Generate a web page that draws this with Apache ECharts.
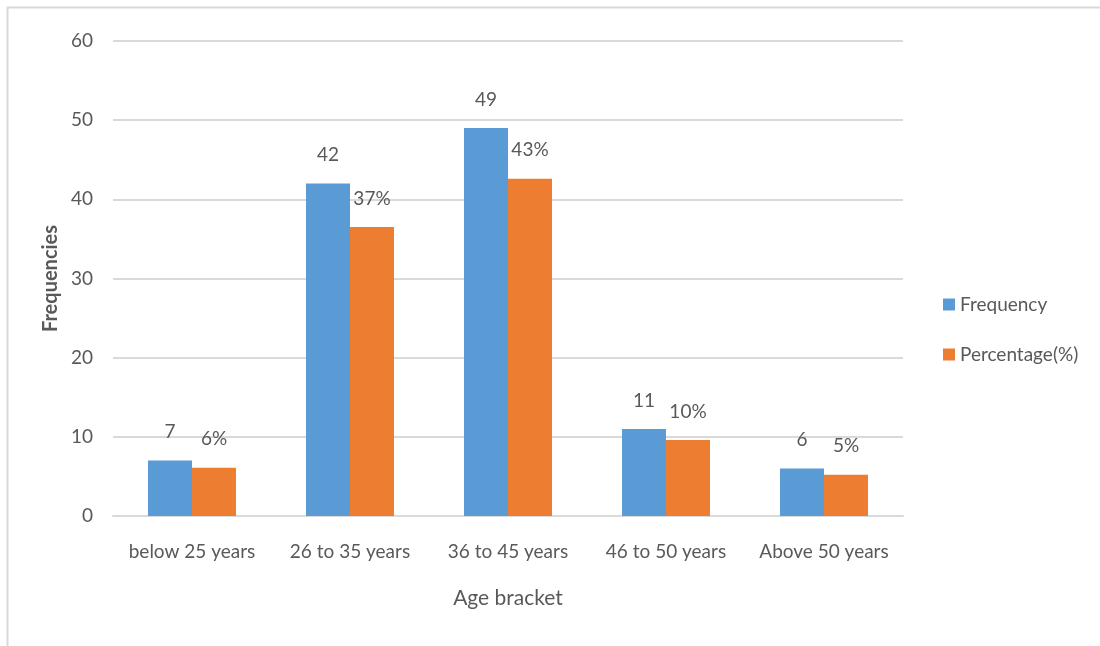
<!DOCTYPE html>
<html>
<head>
<meta charset="utf-8">
<script src="https://cdn.jsdelivr.net/npm/echarts@6/dist/echarts.min.js"></script>
<style>
  html, body { margin: 0; padding: 0; background: #fff; }
  #chart { width: 1100px; height: 646px; }
</style>
</head>
<body>
<div id="chart"></div>
<script>
// data
const categories = ['below 25 years', '26 to 35 years', '36 to 45 years', '46 to 50 years', 'Above 50 years']
const frequency = [7, 42, 49, 11, 6]
const percentage = [6.1, 36.5, 42.6, 9.6, 5.2]
const percentLabels = ['6%', '37%', '43%', '10%', '5%']

const txt = '#595959'
const font = 'Lato'

let myChart = echarts.init(document.getElementById('chart'))
myChart.setOption({
  textStyle: { fontFamily: font },
  graphic: [
    {
      type: 'rect',
      shape: { x: 7.5, y: 7.5, width: 1200, height: 800 },
      style: { fill: 'none', stroke: '#d9d9d9', lineWidth: 2 },
      silent: true,
    },
  ],
  grid: {
    left: 113,
    right: 197,
    top: 41,
    bottom: 130,
  },
  legend: {
    orient: 'vertical',
    left: 938,
    top: 290,
    itemGap: 31,
    itemWidth: 12,
    itemHeight: 12,
    icon: 'rect',
    textStyle: { color: txt, fontSize: 19, fontFamily: font },
    data: ['Frequency', 'Percentage(%)'],
  },
  xAxis: {
    type: 'category',
    data: categories,
    name: 'Age bracket',
    nameLocation: 'middle',
    nameGap: 72,
    nameTextStyle: { color: txt, fontSize: 21, fontFamily: font },
    axisLine: { lineStyle: { color: '#d9d9d9', width: 2 } },
    axisTick: { show: false },
    axisLabel: { color: txt, fontSize: 19, margin: 26, interval: 0, fontFamily: font },
  },
  yAxis: {
    type: 'value',
    min: 0,
    max: 60,
    interval: 10,
    name: 'Frequencies',
    nameLocation: 'middle',
    nameGap: 52,
    nameTextStyle: { color: txt, fontSize: 20, fontWeight: 'bold', fontFamily: font },
    axisLine: { show: false },
    axisTick: { show: false },
    axisLabel: { color: txt, fontSize: 19, margin: 20, fontFamily: font },
    splitLine: { lineStyle: { color: '#d9d9d9', width: 2 } },
  },
  series: [
    {
      name: 'Frequency',
      type: 'bar',
      data: frequency,
      barWidth: 44,
      barGap: '0%',
      itemStyle: { color: '#5b9bd5' },
      label: {
        show: true,
        position: 'top',
        distance: 19,
        color: txt,
        fontSize: 19,
        fontFamily: font,
      },
    },
    {
      name: 'Percentage(%)',
      type: 'bar',
      data: percentage,
      barWidth: 44,
      itemStyle: { color: '#ed7d31' },
      label: {
        show: true,
        position: 'top',
        distance: 19,
        color: txt,
        fontSize: 19,
        fontFamily: font,
        formatter: (p) => percentLabels[p.dataIndex],
      },
    },
  ],
})
</script>
</body>
</html>
